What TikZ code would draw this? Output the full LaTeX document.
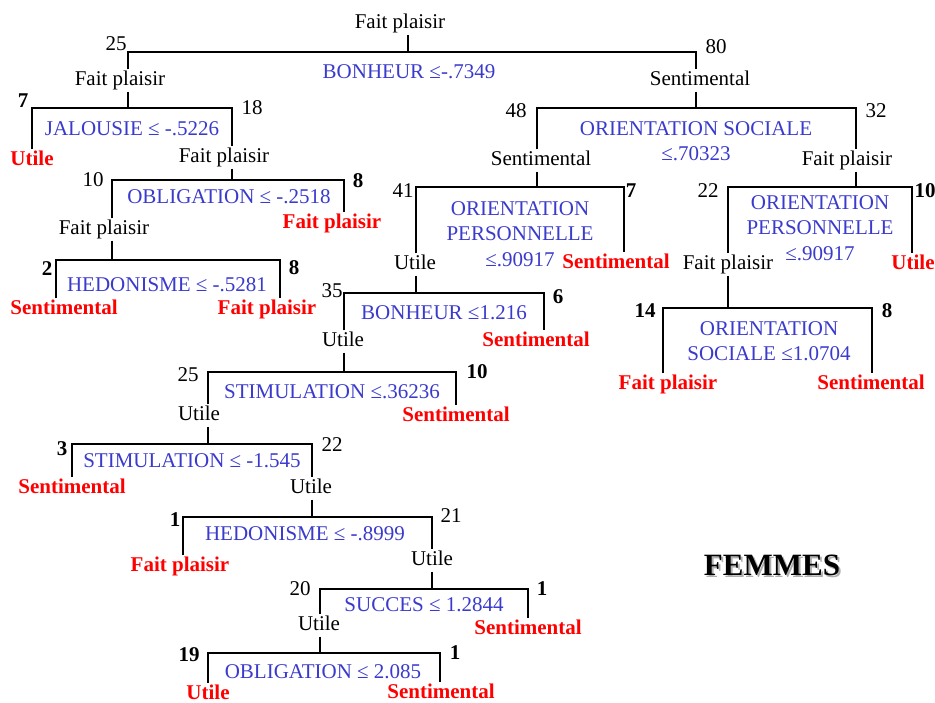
\documentclass[tikz,border=0pt]{standalone}
\usepackage{fontspec}
\setmainfont{Liberation Serif}
\definecolor{condblue}{RGB}{58,58,205}
\definecolor{leafred}{RGB}{255,0,0}
\definecolor{shadowgray}{RGB}{175,175,175}
\begin{document}
\begin{tikzpicture}[x=1pt,y=-1pt,
  every node/.style={font=\fontsize{21}{25.5}\selectfont, inner sep=1.5pt},
  lbl/.style={text height=14.5pt, text depth=4.5pt, yshift=-1.5pt},
  cls/.style={lbl, text=black},
  leaf/.style={lbl, text=leafred, font=\fontsize{21}{25.5}\selectfont\bfseries},
  cnt/.style={lbl},
  bcnt/.style={lbl, font=\fontsize{21}{25.5}\selectfont\bfseries},
  cond/.style={text=condblue, align=center, yshift=-1pt},
  conn/.style={line width=1.2pt, black},
  title/.style={font=\fontsize{31}{36}\selectfont\bfseries}]
\useasboundingbox (0,0) rectangle (935,702);

% ---------- root ----------
\node[cls] (r0) at (400,22) {Fait plaisir};
\node[cnt] (n0l) at (116,44) {25};
\node[cnt] (n0r) at (716,47) {80};
\node[cond] (c0) at (409,71) {BONHEUR ≤-.7349};
\node[cls] (L1) at (120,79) {Fait plaisir};
\node[cls] (R1) at (700,79) {Sentimental};

% ---------- JALOUSIE ----------
\node[bcnt] (n1l) at (23,101) {7};
\node[cnt] (n1r) at (252,108) {18};
\node[cond] (c1) at (132,128) {JALOUSIE ≤ -.5226};
\node[leaf] (f1) at (32,159) {Utile};
\node[cls] (L2) at (224,156) {Fait plaisir};

% ---------- OBLIGATION 1 ----------
\node[cnt] (n2l) at (93,180) {10};
\node[bcnt] (n2r) at (358,181) {8};
\node[cond] (c2) at (229,196) {OBLIGATION ≤ -.2518};
\node[cls] (L3) at (104,228) {Fait plaisir};
\node[leaf] (f2) at (332,222) {Fait plaisir};

% ---------- HEDONISME 1 ----------
\node[bcnt] (n3l) at (47,269) {2};
\node[bcnt] (n3r) at (294,268) {8};
\node[cond] (c3) at (167,284) {HEDONISME ≤ -.5281};
\node[leaf] (f3a) at (64,308) {Sentimental};
\node[leaf] (f3b) at (267,308) {Fait plaisir};

% ---------- ORIENTATION SOCIALE 1 ----------
\node[cnt] (n4l) at (516,111) {48};
\node[cnt] (n4r) at (876,111) {32};
\node[cond] (c4) at (696,140) {ORIENTATION SOCIALE\\≤.70323};
\node[cls] (R2) at (541,159) {Sentimental};
\node[cls] (R3) at (847,159) {Fait plaisir};

% ---------- ORIENTATION PERSONNELLE left ----------
\node[cnt] (n5l) at (403,191) {41};
\node[bcnt] (n5r) at (631,191) {7};
\node[cond] (c5) at (520,233) {ORIENTATION\\PERSONNELLE\\≤.90917};
\node[cls] (R4) at (415,263) {Utile};
\node[leaf] (f5) at (616,262) {Sentimental};

% ---------- BONHEUR 2 ----------
\node[cnt] (n6l) at (332,291) {35};
\node[bcnt] (n6r) at (558,297) {6};
\node[cond] (c6) at (444,312) {BONHEUR ≤1.216};
\node[cls] (R5) at (343,340) {Utile};
\node[leaf] (f6) at (536,340) {Sentimental};

% ---------- STIMULATION 1 ----------
\node[cnt] (n7l) at (188,375) {25};
\node[bcnt] (n7r) at (477,372) {10};
\node[cond] (c7) at (332,391) {STIMULATION ≤.36236};
\node[cls] (R6) at (199,414) {Utile};
\node[leaf] (f7) at (456,415) {Sentimental};

% ---------- STIMULATION 2 ----------
\node[bcnt] (n8l) at (62,449) {3};
\node[cnt] (n8r) at (332,445) {22};
\node[cond] (c8) at (192,460) {STIMULATION ≤ -1.545};
\node[leaf] (f8) at (72,487) {Sentimental};
\node[cls] (R7) at (311,487) {Utile};

% ---------- HEDONISME 2 ----------
\node[bcnt] (n9l) at (175,520) {1};
\node[cnt] (n9r) at (451,516) {21};
\node[cond] (c9) at (305,533) {HEDONISME ≤ -.8999};
\node[leaf] (f9) at (180,565) {Fait plaisir};
\node[cls] (R8) at (432,559) {Utile};

% ---------- SUCCES ----------
\node[cnt] (n10l) at (300,589) {20};
\node[bcnt] (n10r) at (542,589) {1};
\node[cond] (c10) at (424,604) {SUCCES ≤ 1.2844};
\node[cls] (R9) at (319,624) {Utile};
\node[leaf] (f10) at (528,628) {Sentimental};

% ---------- OBLIGATION 2 ----------
\node[bcnt] (n11l) at (189,655) {19};
\node[bcnt] (n11r) at (455,653) {1};
\node[cond] (c11) at (323,671) {OBLIGATION ≤ 2.085};
\node[leaf] (f11a) at (208,692.5) {Utile};
\node[leaf] (f11b) at (441,692) {Sentimental};

% ---------- ORIENTATION PERSONNELLE right ----------
\node[cnt] (n12l) at (708,191) {22};
\node[bcnt] (n12r) at (925,191) {10};
\node[cond] (c12) at (820,227) {ORIENTATION\\PERSONNELLE\\≤.90917};
\node[cls] (R10) at (728,263) {Fait plaisir};
\node[leaf] (f12) at (913,263) {Utile};

% ---------- ORIENTATION SOCIALE 2 ----------
\node[bcnt] (n13l) at (645,311) {14};
\node[bcnt] (n13r) at (887,311) {8};
\node[cond] (c13) at (769,340) {ORIENTATION\\SOCIALE ≤1.0704};
\node[leaf] (f13a) at (668,383) {Fait plaisir};
\node[leaf] (f13b) at (871,383) {Sentimental};

% ---------- title ----------
\node[title, text=shadowgray] (femshadow) at (774,567) {FEMMES};
\node[title, text=black] (femmes) at (772,565) {FEMMES};

% ---------- bar coordinates ----------
\coordinate (s0) at (408,52);  \coordinate (a0) at (128,52);  \coordinate (b0) at (696,52);
\coordinate (s1) at (128,108); \coordinate (a1) at (32,108);  \coordinate (b1) at (232,108);
\coordinate (s2) at (232,180); \coordinate (a2) at (112,180); \coordinate (b2) at (344,180);
\coordinate (s3) at (112,260); \coordinate (a3) at (56,260);  \coordinate (b3) at (280,260);
\coordinate (s4) at (696,108); \coordinate (a4) at (537,108); \coordinate (b4) at (856,108);
\coordinate (s5) at (537,187); \coordinate (a5) at (416,187); \coordinate (b5) at (624,187);
\coordinate (s6) at (416,293); \coordinate (a6) at (344,293); \coordinate (b6) at (544,293);
\coordinate (s7) at (344,372); \coordinate (a7) at (208,372); \coordinate (b7) at (456,372);
\coordinate (s8) at (208,444); \coordinate (a8) at (72,444);  \coordinate (b8) at (312,444);
\coordinate (s9) at (312,517); \coordinate (a9) at (183,517); \coordinate (b9) at (432,517);
\coordinate (s10) at (432,589); \coordinate (a10) at (320,589); \coordinate (b10) at (528,589);
\coordinate (s11) at (320,653); \coordinate (a11) at (208,653); \coordinate (b11) at (440,653);
\coordinate (s12) at (856,187); \coordinate (a12) at (728,187); \coordinate (b12) at (912,187);
\coordinate (s13) at (728,308); \coordinate (a13) at (663,308); \coordinate (b13) at (872,308);

% ---------- connectors ----------
\draw[conn] (s0 |- r0.south) -- (s0);
\draw[conn] (a0 |- L1.north) -- (a0) -- (b0) -- (b0 |- R1.north);

\draw[conn] (s1 |- L1.south) -- (s1);
\draw[conn] (a1 |- f1.north) -- (a1) -- (b1) -- (b1 |- L2.north);

\draw[conn] (s2 |- L2.south) -- (s2);
\draw[conn] (a2 |- L3.north) -- (a2) -- (b2) -- (b2 |- f2.north);

\draw[conn] (s3 |- L3.south) -- (s3);
\draw[conn] (a3 |- f3a.north) -- (a3) -- (b3) -- (b3 |- f3b.north);

\draw[conn] (s4 |- R1.south) -- (s4);
\draw[conn] (a4 |- R2.north) -- (a4) -- (b4) -- (b4 |- R3.north);

\draw[conn] (s5 |- R2.south) -- (s5);
\draw[conn] (a5 |- R4.north) -- (a5) -- (b5) -- (b5 |- f5.north);

\draw[conn] (s6 |- R4.south) -- (s6);
\draw[conn] (a6 |- R5.north) -- (a6) -- (b6) -- (b6 |- f6.north);

\draw[conn] (s7 |- R5.south) -- (s7);
\draw[conn] (a7 |- R6.north) -- (a7) -- (b7) -- (b7 |- f7.north);

\draw[conn] (s8 |- R6.south) -- (s8);
\draw[conn] (a8 |- f8.north) -- (a8) -- (b8) -- (b8 |- R7.north);

\draw[conn] (s9 |- R7.south) -- (s9);
\draw[conn] (a9 |- f9.north) -- (a9) -- (b9) -- (b9 |- R8.north);

\draw[conn] (s10 |- R8.south) -- (s10);
\draw[conn] (a10 |- R9.north) -- (a10) -- (b10) -- (b10 |- f10.north);

\draw[conn] (s11 |- R9.south) -- (s11);
\draw[conn] (a11 |- f11a.north) -- (a11) -- (b11) -- (b11 |- f11b.north);

\draw[conn] (s12 |- R3.south) -- (s12);
\draw[conn] (a12 |- R10.north) -- (a12) -- (b12) -- (b12 |- f12.north);

\draw[conn] (s13 |- R10.south) -- (s13);
\draw[conn] (a13 |- f13a.north) -- (a13) -- (b13) -- (b13 |- f13b.north);
\end{tikzpicture}
\end{document}
